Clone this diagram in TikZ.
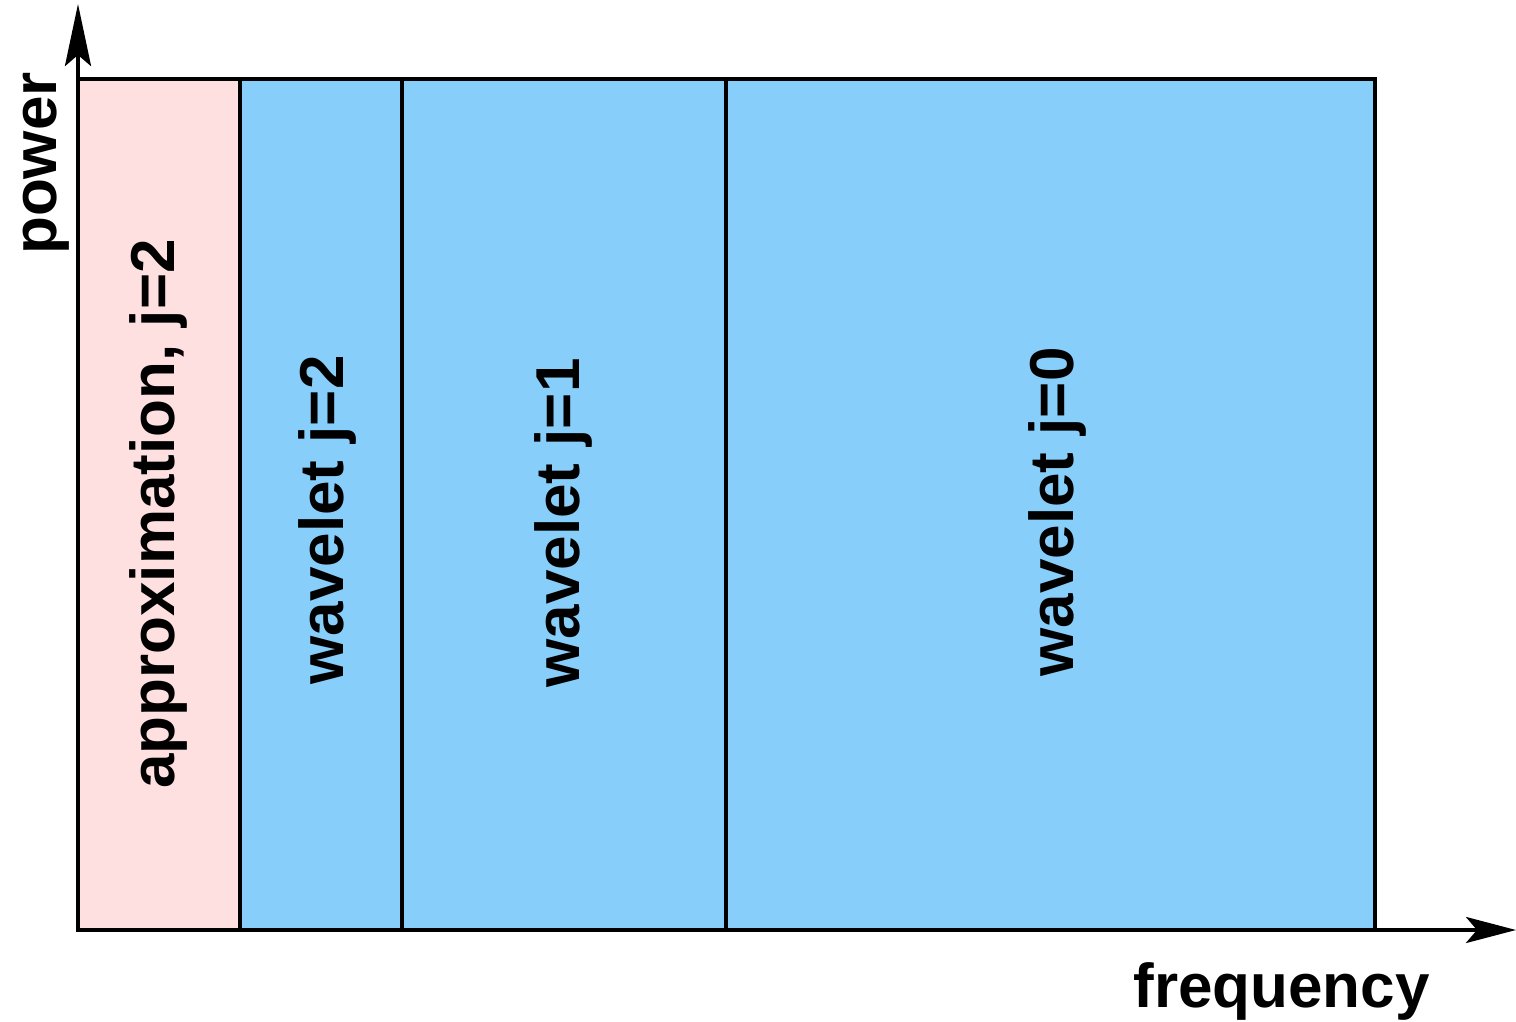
\documentclass[tikz,border=0pt]{standalone}
\usepackage{fontspec}
\setmainfont{Liberation Sans}
\usetikzlibrary{arrows.meta}
\definecolor{wave}{HTML}{87CEFA}
\definecolor{approx}{HTML}{FFE0E0}
\begin{document}
\begin{tikzpicture}[x=1pt,y=-1pt,
  band/.style={draw=black, line width=4pt},
  axis/.style={line width=4pt},
  lbl/.style={font=\bfseries\fontsize{62}{62}\selectfont, inner sep=0pt}]
  \useasboundingbox (0,0) rectangle (1516,1022);
  % frequency bands
  \path[band, fill=wave] (240,79) rectangle (402,930);
  \path[band, fill=wave] (402,79) rectangle (726,930);
  \path[band, fill=wave] (726,79) rectangle (1375,930);
  \path[band, fill=approx] (78,79) rectangle (240,930);
  % axes
  \coordinate (o) at (78,930);
  \coordinate (xe) at (1516,930);
  \coordinate (ye) at (78,4);
  \draw[axis, -{Stealth[length=50pt,width=26pt,inset=11pt]}] (o) -- (xe);
  \draw[axis, -{Stealth[length=62pt,width=26pt,inset=11pt]}] (o) -- (ye);
  % labels
  \node[lbl, anchor=base east] (fq) at (1430,1007) {frequency};
  \node[lbl, rotate=90, anchor=base east] (pw) at (56,72) {power};
  \node[lbl, rotate=90] (ap) at (158,514) {approximation, j=2};
  \node[lbl, rotate=90] (w2) at (327,520) {wavelet j=2};
  \node[lbl, rotate=90] (w1) at (563,523) {wavelet j=1};
  \node[lbl, rotate=90] (w0) at (1057,512) {wavelet j=0};
\end{tikzpicture}
\end{document}
